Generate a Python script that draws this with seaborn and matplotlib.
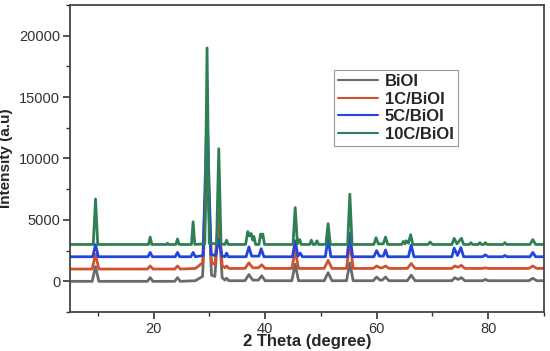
import seaborn as sns
import matplotlib.pyplot as plt
import pandas as pd
import matplotlib.ticker as ticker

# (2 theta, intensity) vertices
bioi_pts = [
    (5, 0), (9.0, 0), (9.6, 1200), (10.2, 0), (18.9, 0), (19.4, 300), (19.9, 0),
    (23.8, 0), (24.3, 300), (24.8, 0), (27.5, 50), (28.8, 400), (29.6, 9000),
    (30.4, 500), (31.0, 400), (31.7, 5000), (32.3, 300), (32.8, 100), (33.1, 250),
    (33.5, 50), (36.4, 50), (37.1, 550), (37.8, 100), (38.8, 100), (39.4, 450),
    (40.0, 50), (44.8, 50), (45.4, 1400), (46.0, 50), (50.6, 50), (51.3, 700),
    (52.0, 50), (54.6, 50), (55.2, 1500), (55.8, 50), (59.4, 50), (60.0, 350),
    (60.6, 100), (61.0, 100), (61.6, 350), (62.2, 50), (65.5, 50), (66.2, 500),
    (66.9, 50), (73.5, 50), (74.0, 300), (74.6, 150), (75.2, 300), (75.8, 50),
    (79.0, 50), (79.5, 150), (80.0, 50), (87.3, 50), (88.0, 250), (88.7, 50), (90, 50),
]
c1_pts = [
    (5, 1000), (9.0, 1000), (9.6, 2200), (10.2, 1000), (18.9, 1000), (19.4, 1250),
    (19.9, 1000), (23.8, 1000), (24.3, 1250), (24.8, 1000), (27.5, 1050),
    (28.8, 1500), (29.6, 11000), (30.4, 1500), (31.0, 1400), (31.7, 5500),
    (32.3, 1300), (32.8, 1100), (33.1, 1250), (33.5, 1050), (36.4, 1050),
    (37.1, 1500), (37.8, 1100), (38.8, 1100), (39.4, 1350), (40.0, 1050),
    (44.8, 1050), (45.4, 2500), (46.0, 1050), (50.6, 1050), (51.3, 1700),
    (52.0, 1050), (54.6, 1050), (55.2, 3200), (55.8, 1050), (59.4, 1050),
    (60.0, 1250), (60.6, 1100), (61.0, 1100), (61.6, 1250), (62.2, 1050),
    (65.5, 1050), (66.2, 1450), (66.9, 1050), (73.5, 1050), (74.0, 1250),
    (74.6, 1150), (75.2, 1300), (75.8, 1050), (79.0, 1050), (79.5, 1100),
    (80.0, 1050), (87.3, 1050), (88.0, 1250), (88.7, 1050), (90, 1050),
]
c5_pts = [
    (5, 2000), (9.1, 2000), (9.6, 3000), (10.1, 2000), (19.0, 2000), (19.4, 2350),
    (19.8, 2000), (23.9, 2000), (24.3, 2350), (24.7, 2000), (26.7, 2000),
    (27.1, 2350), (27.5, 2000), (28.9, 2100), (29.6, 14000), (30.3, 2200),
    (31.1, 2100), (31.7, 3400), (32.3, 2050), (32.8, 2000), (33.1, 2300),
    (33.4, 2000), (36.6, 2000), (37.1, 2800), (37.6, 2050), (38.9, 2050),
    (39.3, 2650), (39.8, 2000), (44.9, 2000), (45.4, 3300), (45.9, 2050),
    (46.3, 2300), (46.7, 2000), (50.8, 2000), (51.3, 3500), (51.8, 2000),
    (54.7, 2000), (55.2, 3900), (55.7, 2000), (59.5, 2000), (60.0, 2500),
    (60.5, 2050), (61.2, 2050), (61.6, 2550), (62.0, 2000), (65.7, 2000),
    (66.2, 2950), (66.7, 2000), (73.5, 2000), (73.9, 2700), (74.5, 2100),
    (75.1, 2750), (75.6, 2000), (79.0, 2000), (79.5, 2150), (80.0, 2000),
    (82.6, 2000), (83.0, 2100), (83.4, 2000), (87.5, 2000), (88.0, 2350),
    (88.5, 2000), (90, 2000),
]
c10_pts = [
    (5, 3000), (9.2, 3000), (9.6, 6700), (10.0, 3000), (19.1, 3000), (19.4, 3600),
    (19.7, 3000), (22.3, 3000), (22.5, 3100), (22.7, 3000), (24.0, 3000),
    (24.3, 3450), (24.6, 3000), (26.8, 3000), (27.1, 4850), (27.4, 3000),
    (29.2, 3050), (29.6, 19000), (30.0, 3100), (31.3, 3050), (31.7, 10800),
    (32.1, 3050), (32.8, 3000), (33.1, 3350), (33.4, 3000), (36.5, 3000),
    (36.9, 4050), (37.2, 3700), (37.5, 3900), (37.8, 3350), (38.0, 3650),
    (38.3, 3000), (38.9, 3000), (39.2, 3850), (39.4, 3600), (39.6, 3850),
    (39.9, 3000), (45.0, 3000), (45.4, 6000), (45.8, 3050), (46.2, 3400),
    (46.5, 3000), (48.0, 3000), (48.3, 3350), (48.6, 3000), (49.0, 3000),
    (49.3, 3300), (49.6, 3000), (50.9, 3000), (51.3, 4700), (51.7, 3000),
    (54.8, 3000), (55.2, 7100), (55.6, 3000), (59.5, 3000), (59.9, 3550),
    (60.3, 3050), (61.2, 3050), (61.6, 3600), (62.0, 3000), (64.5, 3000),
    (64.8, 3250), (65.1, 3050), (65.3, 3300), (65.7, 3100), (66.1, 3800),
    (66.5, 3000), (69.2, 3000), (69.6, 3200), (70.0, 3000), (73.5, 3000),
    (73.9, 3500), (74.4, 3050), (75.2, 3500), (75.6, 3000), (76.6, 3000),
    (76.9, 3150), (77.2, 3000), (78.2, 3000), (78.5, 3150), (78.8, 3000),
    (79.2, 3000), (79.5, 3150), (79.8, 3000), (82.7, 3000), (83.0, 3150),
    (83.3, 3000), (87.5, 3000), (88.0, 3400), (88.5, 3000), (90, 3000),
]

series_names = ["BiOI", "1C/BiOI", "5C/BiOI", "10C/BiOI"]
series_pts = [bioi_pts, c1_pts, c5_pts, c10_pts]
colors = ["#6a6a6a", "#d2512f", "#2245dc", "#2f7f55"]

frames = []
for name, pts in zip(series_names, series_pts):
    d = pd.DataFrame(pts, columns=["theta", "intensity"])
    d["sample"] = name
    frames.append(d)
df = pd.concat(frames, ignore_index=True)

sns.set_style("ticks")
plt.rcParams["font.family"] = ["Liberation Sans", "DejaVu Sans"]

fig = plt.figure(figsize=(5.5, 3.51), dpi=100)
ax = fig.add_axes([0.127, 0.111, 0.862, 0.875])

sns.lineplot(
    data=df, x="theta", y="intensity", hue="sample",
    hue_order=series_names, palette=colors, linewidth=2.0,
    sort=False, estimator=None, ax=ax,
)

ax.set_xlim(5, 90)
ax.set_ylim(-2500, 22500)
ax.xaxis.set_major_locator(ticker.MultipleLocator(20))
ax.xaxis.set_minor_locator(ticker.MultipleLocator(10))
ax.yaxis.set_major_locator(ticker.MultipleLocator(5000))
ax.yaxis.set_minor_locator(ticker.MultipleLocator(2500))
ax.tick_params(which="major", length=5, width=1.2, labelsize=10.5,
               colors="#333333", direction="out", pad=2)
ax.tick_params(which="minor", length=3, width=1.0, colors="#333333",
               direction="out")

for sp in ax.spines.values():
    sp.set_visible(True)
    sp.set_linewidth(1.3)
    sp.set_color("#444444")

ax.set_xlabel("2 Theta (degree)", fontsize=12, fontweight="bold", labelpad=-1)
ax.set_ylabel("Intensity (a.u)", fontsize=11, fontweight="bold", labelpad=4)

leg = ax.legend(
    loc="upper left", bbox_to_anchor=(0.54, 0.815),
    prop={"weight": "bold", "size": 12}, handlelength=2.4, labelspacing=0.15,
    borderpad=0.25, handletextpad=0.4, fancybox=False, framealpha=1,
)
leg.get_frame().set_edgecolor("#999999")
leg.get_frame().set_linewidth(0.8)
for line in leg.get_lines():
    line.set_linewidth(1.5)

plt.savefig("out.png", dpi=100)
